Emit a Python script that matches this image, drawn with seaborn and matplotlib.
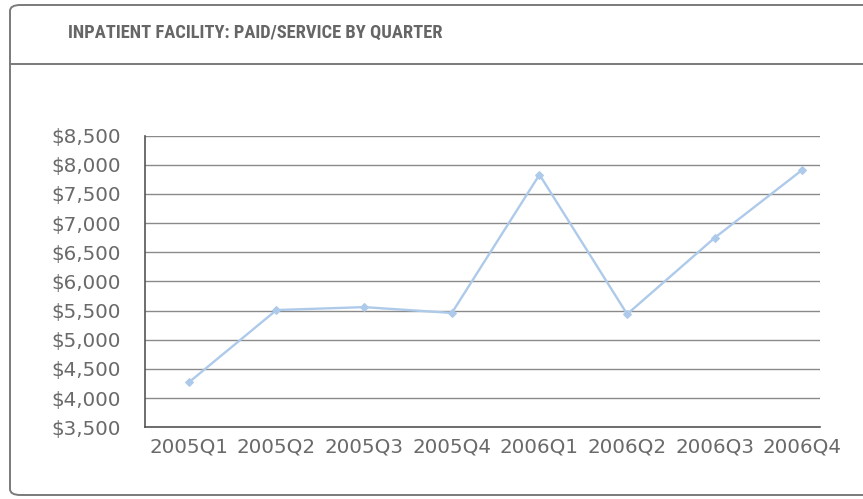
import matplotlib
matplotlib.use("Agg")
import matplotlib.pyplot as plt
from matplotlib.patches import FancyBboxPatch
from matplotlib.lines import Line2D
from matplotlib.ticker import FuncFormatter, MultipleLocator
import seaborn as sns
import pandas as pd

quarters = ["2005Q1", "2005Q2", "2005Q3", "2005Q4",
            "2006Q1", "2006Q2", "2006Q3", "2006Q4"]
paid_per_service = [4270, 5510, 5560, 5460, 7830, 5440, 6750, 7915]
title_text = "INPATIENT FACILITY: PAID/SERVICE BY QUARTER"

sns.set_theme(style="white")
plt.rcParams["font.family"] = ["DejaVu Sans"]

W, H = 863, 499
fig = plt.figure(figsize=(W / 100, H / 100), dpi=100)
fig.patch.set_facecolor("white")

# card frame with header divider
card = FancyBboxPatch((10 / W, 4 / H), (W + 40) / W, 490 / H,
                      boxstyle="round,pad=0,rounding_size=0.012",
                      transform=fig.transFigure, facecolor="none",
                      edgecolor="#7a7a7a", linewidth=1.4, zorder=0)
fig.patches.append(card)
fig.lines.append(Line2D([10 / W, 1.0], [1 - 64 / H, 1 - 64 / H],
                        transform=fig.transFigure, color="#7a7a7a",
                        linewidth=1.4))
fig.text(68 / W, 1 - 33 / H, title_text, ha="left", va="center",
         fontsize=13.3, fontweight="bold", fontstretch="condensed",
         color="#666666",
         family=["Roboto Condensed", "Oswald", "DejaVu Sans"])

ax = fig.add_axes([145 / W, 1 - 427.3 / H, 675 / W, 291.7 / H])
df = pd.DataFrame({"quarter": quarters, "paid": paid_per_service})
sns.lineplot(data=df, x="quarter", y="paid", ax=ax, color="#aecaea",
             linewidth=1.7, marker="D", markersize=4.5,
             markeredgecolor="#aecaea", sort=False)

ax.set_ylim(3500, 8500)
ax.set_xlim(-0.5, 7.2)
ax.yaxis.set_major_locator(MultipleLocator(500))
ax.yaxis.set_major_formatter(FuncFormatter(lambda v, p: f"${v:,.0f}"))
ax.grid(axis="y", color="#8a8a8a", linewidth=1.0)
ax.grid(axis="x", visible=False)
ax.set_axisbelow(True)
for side in ("top", "right"):
    ax.spines[side].set_visible(False)
for side in ("left", "bottom"):
    ax.spines[side].set_color("#555555")
    ax.spines[side].set_linewidth(1.2)
ax.tick_params(axis="both", direction="in", length=6, width=1,
               color="#555555", labelsize=14.3, labelcolor="#6a6a6a")
ax.tick_params(axis="y", pad=17.5)
ax.tick_params(axis="x", pad=7)
ax.set_xlabel("")
ax.set_ylabel("")

fig.savefig("out.png", dpi=100)
